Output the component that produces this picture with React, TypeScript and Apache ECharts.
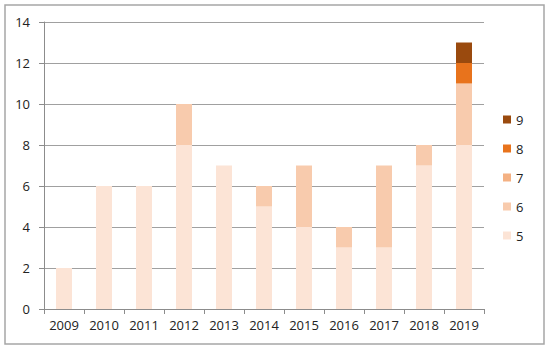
import React, { useEffect, useRef } from "react";
import * as echarts from "echarts";

const categories = ["2009", "2010", "2011", "2012", "2013", "2014", "2015", "2016", "2017", "2018", "2019"];
const s5 = [2, 6, 6, 8, 7, 5, 4, 3, 3, 7, 8];
const s6 = [0, 0, 0, 2, 0, 1, 3, 1, 4, 1, 3];
const s7 = [0, 0, 0, 0, 0, 0, 0, 0, 0, 0, 0];
const s8 = [0, 0, 0, 0, 0, 0, 0, 0, 0, 0, 1];
const s9 = [0, 0, 0, 0, 0, 0, 0, 0, 0, 0, 1];
const seriesNames = ["5", "6", "7", "8", "9"];
const colors = ["#FCE4D6", "#F8CBAD", "#F4B183", "#E8731C", "#9A4A0E"];
const legendOrder = ["9", "8", "7", "6", "5"];

export default function App() {
  const ref = useRef<HTMLDivElement>(null);
  useEffect(() => {
    const chart = echarts.init(ref.current!, null, { renderer: "svg" });
    const values = [s5, s6, s7, s8, s9];
    const font = "'Open Sans', 'Liberation Sans', sans-serif";
    chart.setOption({
      animation: false,
      textStyle: { fontFamily: font },
      graphic: [
        {
          type: "rect",
          shape: { x: 5, y: 5, width: 539, height: 339 },
          style: { fill: "none", stroke: "#A6A6A6", lineWidth: 1.5 },
          silent: true,
        },
      ],
      grid: { left: 44, right: 66, top: 22, bottom: 45 },
      legend: {
        data: legendOrder,
        orient: "vertical",
        left: 498,
        top: 108,
        itemWidth: 8,
        itemHeight: 8,
        itemGap: 16,
        icon: "rect",
        textStyle: { fontSize: 13, color: "#222", fontFamily: font },
      },
      xAxis: {
        type: "category",
        data: categories,
        axisLine: { lineStyle: { color: "#8C8C8C", width: 1 } },
        axisTick: { show: true, length: 5, lineStyle: { color: "#8C8C8C" } },
        axisLabel: { fontSize: 13, color: "#222", margin: 9 },
      },
      yAxis: {
        type: "value",
        min: 0,
        max: 14,
        interval: 2,
        axisLine: { show: true, lineStyle: { color: "#8C8C8C", width: 1 } },
        axisTick: { show: true, length: 5, lineStyle: { color: "#8C8C8C" } },
        axisLabel: { fontSize: 13, color: "#222", margin: 14 },
        splitLine: { lineStyle: { color: "#A0A0A0", width: 1 } },
      },
      series: seriesNames.map((n, i) => ({
        name: n,
        type: "bar",
        stack: "total",
        barWidth: 16,
        data: values[i],
        itemStyle: { color: colors[i] },
      })),
    });
    return () => chart.dispose();
  }, []);
  return <div ref={ref} style={{ width: 550, height: 354, position: "absolute", left: 0, top: 0 }} />;
}
